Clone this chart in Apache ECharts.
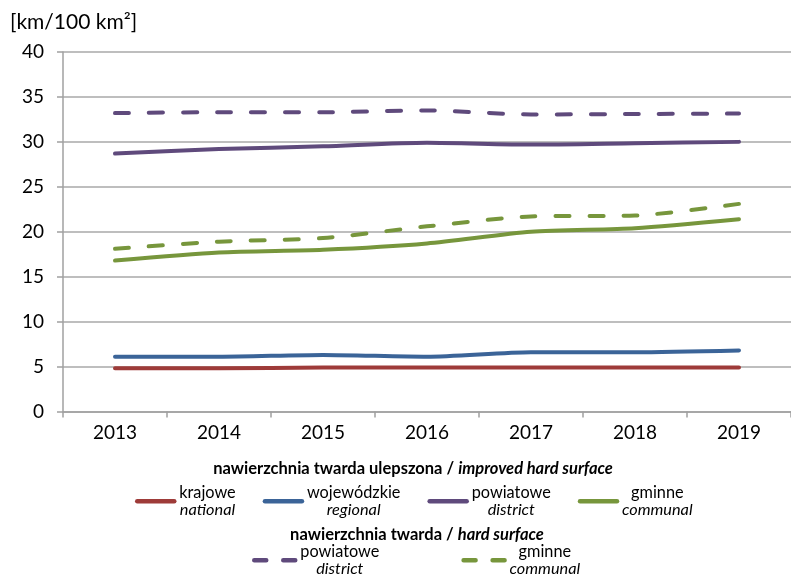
<!DOCTYPE html>
<html>
<head>
<meta charset="utf-8">
<script src="https://cdn.jsdelivr.net/npm/echarts@6/dist/echarts.min.js"></script>
<style>
  html, body { margin: 0; padding: 0; background: #fff; }
  #chart { width: 791px; height: 575px; }
</style>
</head>
<body>
<div id="chart"></div>
<script>
// Road density by road category, km per 100 km²
const years = ['2013', '2014', '2015', '2016', '2017', '2018', '2019'];

// improved hard surface
const krajowe      = [4.8, 4.8, 4.9, 4.9, 4.9, 4.9, 4.9];
const wojewodzkie  = [6.1, 6.1, 6.3, 6.1, 6.6, 6.6, 6.8];
const powiatowe    = [28.7, 29.2, 29.5, 29.9, 29.7, 29.85, 30.0];
const gminne       = [16.8, 17.7, 18.0, 18.7, 20.0, 20.4, 21.4];

// hard surface
const powiatoweHard = [33.2, 33.3, 33.3, 33.5, 33.05, 33.1, 33.15];
const gminneHard    = [18.1, 18.9, 19.3, 20.6, 21.7, 21.8, 23.1];

const yTicks = { min: 0, max: 40, interval: 5 };

const FONT = 'Lato';
const COLORS = {
  red: '#9E3B39',
  blue: '#3B6498',
  purple: '#5F4A7C',
  green: '#77963C'
};

// legend captions: Polish name over English name
const captions = {
  'krajowe': ['krajowe', 'national'],
  'wojewódzkie': ['wojewódzkie', 'regional'],
  'powiatowe': ['powiatowe', 'district'],
  'gminne': ['gminne', 'communal'],
  'powiatowe (twarda)': ['powiatowe', 'district'],
  'gminne (twarda)': ['gminne', 'communal']
};

function solid(name, data, color) {
  return {
    name, type: 'line', data, smooth: 0.25, symbol: 'none',
    lineStyle: { color, width: 4, cap: 'round', join: 'round' },
    itemStyle: { color }
  };
}
function dashed(name, data, color) {
  return {
    name, type: 'line', data, smooth: 0.25, symbol: 'none',
    lineStyle: { color, width: 4, type: [14, 20], cap: 'round', join: 'round' },
    itemStyle: { color }
  };
}

const legendText = {
  formatter: name => '{pl|' + captions[name][0] + '}\n{en|' + captions[name][1] + '}',
  textStyle: {
    rich: {
      pl: { fontFamily: FONT, fontSize: 16.3, color: '#000', align: 'center', lineHeight: 17.5 },
      en: { fontFamily: FONT, fontSize: 16.3, color: '#000', fontStyle: 'italic', align: 'center', lineHeight: 17.5 }
    }
  },
  padding: 0,
  // plain line keys, no marker dot
  itemStyle: { opacity: 0 },
  itemHeight: 14
};

const headingRich = {
  b: { fontFamily: FONT, fontSize: 16.5, fontWeight: 'bold', fill: '#000' },
  bi: { fontFamily: FONT, fontSize: 16.5, fontWeight: 'bold', fontStyle: 'italic', fill: '#000' }
};

const chart = echarts.init(document.getElementById('chart'), null, { renderer: 'canvas' });

chart.setOption({
  animation: false,
  backgroundColor: '#fff',
  grid: { left: 63, top: 52, width: 731, height: 359.5, containLabel: false },
  xAxis: {
    type: 'category',
    data: years,
    boundaryGap: true,
    axisLine: { lineStyle: { color: '#A0A0A0', width: 1.5 } },
    axisTick: { show: true, length: 6, lineStyle: { color: '#A0A0A0', width: 1.5 } },
    axisLabel: { fontFamily: FONT, fontSize: 19, color: '#000', margin: 12 }
  },
  yAxis: {
    type: 'value',
    min: yTicks.min, max: yTicks.max, interval: yTicks.interval,
    axisLine: { show: true, lineStyle: { color: '#A0A0A0', width: 1.5 } },
    axisTick: { show: true, length: 6, lineStyle: { color: '#A0A0A0', width: 1.5 } },
    splitLine: { lineStyle: { color: '#A8A8A8', width: 1.5 } },
    axisLabel: { fontFamily: FONT, fontSize: 19, color: '#000', margin: 19 }
  },
  legend: [
    Object.assign({
      data: ['krajowe', 'wojewódzkie', 'powiatowe', 'gminne'],
      left: 135, top: 484.5, orient: 'horizontal',
      itemWidth: 37, itemGap: 27,
      lineStyle: { width: 4.5, type: 'solid', cap: 'round' }
    }, legendText),
    Object.assign({
      data: ['powiatowe (twarda)', 'gminne (twarda)'],
      left: 252, top: 543.5, orient: 'horizontal',
      itemWidth: 41, itemGap: 82,
      lineStyle: { width: 4.5, type: [12, 17], cap: 'round' }
    }, legendText)
  ],
  graphic: [
    {
      type: 'text', left: 10, top: 12,
      style: { text: '[km/100 km²]', fontFamily: FONT, fontSize: 21, fill: '#000' }
    },
    {
      type: 'text', x: 413, y: 460,
      style: { text: '{b|nawierzchnia twarda ulepszona / }{bi|improved hard surface}', rich: headingRich, align: 'center' }
    },
    {
      type: 'text', x: 417, y: 526.5,
      style: { text: '{b|nawierzchnia twarda / }{bi|hard surface}', rich: headingRich, align: 'center' }
    }
  ],
  series: [
    dashed('powiatowe (twarda)', powiatoweHard, COLORS.purple),
    dashed('gminne (twarda)', gminneHard, COLORS.green),
    solid('krajowe', krajowe, COLORS.red),
    solid('wojewódzkie', wojewodzkie, COLORS.blue),
    solid('powiatowe', powiatowe, COLORS.purple),
    solid('gminne', gminne, COLORS.green)
  ]
});
</script>
</body>
</html>
